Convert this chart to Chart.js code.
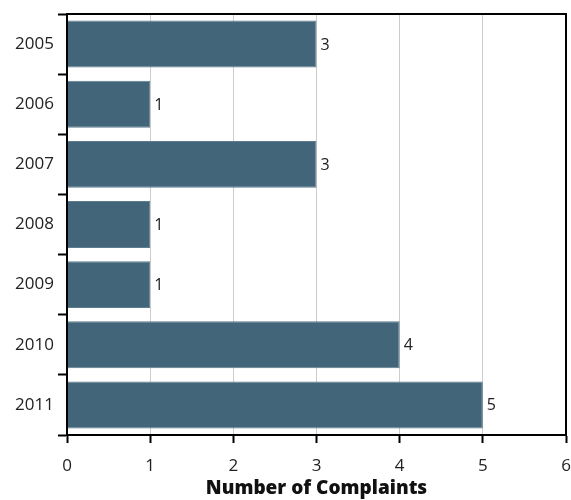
<!DOCTYPE html>
<html lang="en">
<head>
  <meta charset="UTF-8">
  <title>Complaints per Year</title>
  <script src="https://cdn.jsdelivr.net/npm/chart.js"></script>
  <style>
    body { margin: 0; background: #fff; }
    #wrap { width: 571px; height: 500px; position: relative; }
  </style>
</head>
<body>
<div id="wrap">
  <canvas id="chartComplaints" width="571" height="500"></canvas>
</div>

<script>
var years = ['2005', '2006', '2007', '2008', '2009', '2010', '2011'];
var complaints = [3, 1, 3, 1, 1, 4, 5];
var xTicks = [0, 1, 2, 3, 4, 5, 6];

var fontFamily = '"Open Sans", "Noto Sans", sans-serif';

// frame around plot area (top + right side too)
const frameBox = {
  id: 'frameBox',
  afterDraw(chart) {
    const a = chart.chartArea;
    const ctx = chart.ctx;
    ctx.save();
    ctx.strokeStyle = '#000';
    ctx.lineWidth = 2;
    ctx.strokeRect(a.left, a.top, a.right - a.left, a.bottom - a.top);
    ctx.restore();
  }
};

// value labels at end of bars
const barValues = {
  id: 'barValues',
  afterDatasetsDraw(chart) {
    const ctx = chart.ctx;
    const meta = chart.getDatasetMeta(0);
    ctx.save();
    ctx.font = '16px ' + fontFamily;
    ctx.fillStyle = '#222';
    ctx.textAlign = 'left';
    ctx.textBaseline = 'middle';
    meta.data.forEach((bar, i) => {
      ctx.fillText(complaints[i], bar.x + 4, bar.y + 1);
    });
    ctx.restore();
  }
};

new Chart(document.getElementById('chartComplaints'), {
  type: 'bar',
  data: {
    labels: years,
    datasets: [{
      label: 'Number of Complaints',
      data: complaints,
      backgroundColor: '#426579',
      borderColor: '#5d7d8f',
      borderWidth: 1,
      categoryPercentage: 1,
      barPercentage: 0.78
    }]
  },
  options: {
    indexAxis: 'y',
    responsive: false,
    animation: false,
    layout: { padding: { top: 14, right: 5, left: 0, bottom: 0 } },
    plugins: {
      legend: { display: false },
      tooltip: { enabled: false }
    },
    scales: {
      x: {
        min: 0,
        max: 6,
        afterBuildTicks: function(scale) {
          scale.ticks = xTicks.map(v => ({ value: v }));
        },
        afterFit: function(scale) {
          scale.height = 65;
          scale.paddingLeft = 0;
          scale.paddingRight = 0;
        },
        grid: {
          color: '#cccccc',
          lineWidth: 1,
          tickColor: '#000',
          tickLength: 8,
          tickWidth: 2
        },
        border: { display: true, color: '#000', width: 2 },
        ticks: {
          color: '#222',
          padding: 13,
          font: { family: fontFamily, size: 17 }
        },
        title: {
          display: true,
          text: 'Number of Complaints',
          color: '#111',
          padding: { top: 0, bottom: 0 },
          font: { family: fontFamily, size: 19, weight: '800' }
        }
      },
      y: {
        offset: true,
        afterFit: function(scale) {
          scale.width = 67;
          scale.paddingTop = 0;
          scale.paddingBottom = 0;
        },
        grid: {
          offset: true,
          drawOnChartArea: false,
          drawTicks: true,
          tickLength: 9,
          tickColor: '#000',
          tickWidth: 2
        },
        border: { display: true, color: '#000', width: 2 },
        ticks: {
          color: '#222',
          padding: 4,
          font: { family: fontFamily, size: 17 }
        }
      }
    }
  },
  plugins: [frameBox, barValues]
});
</script>
</body>
</html>
